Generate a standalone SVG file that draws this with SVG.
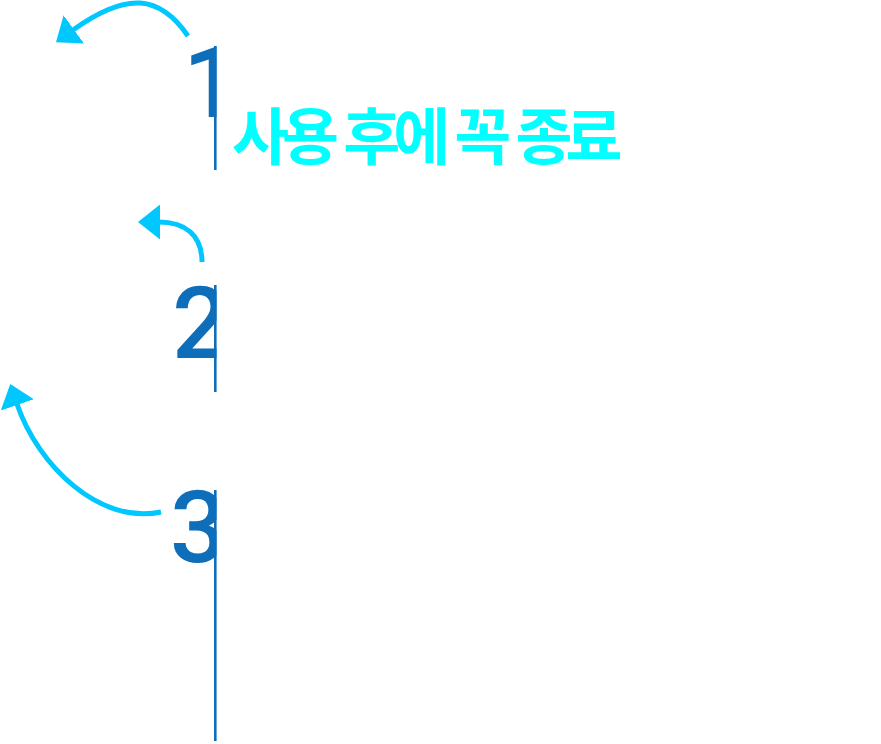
<svg xmlns="http://www.w3.org/2000/svg" width="881" height="744" viewBox="0 0 881 744">
<defs>
<style>
.num{font-family:Roboto,"Liberation Sans",sans-serif;font-size:100px;font-weight:500;fill:#0F6EB9}
.rule{stroke:#0F6EB9;stroke-width:2.6;fill:none}
.arr{stroke:#00C8FF;stroke-width:5;fill:none;marker-end:url(#head)}
.note{font-family:"Noto Sans CJK KR",sans-serif;font-weight:bold;font-size:62px;fill:#00FFFF;letter-spacing:-7px;word-spacing:4px}
</style>
<marker id="head" markerUnits="userSpaceOnUse" viewBox="0 0 22 35" refX="1" refY="17.5" markerWidth="22" markerHeight="35" orient="auto">
<path d="M0,0 L22,17.5 L0,35 z" fill="#00C8FF"/>
</marker>
<clipPath id="cut"><rect x="0" y="0" width="216.5" height="744"/></clipPath>
</defs>
<rect width="881" height="744" fill="#FFFFFF"/>
<g id="connectors">
<path class="arr" d="M188,36 C160,-5 127,-9 73,30"/>
<path class="arr" d="M202,262 C202,235 185,222 159,222"/>
<path class="arr" d="M161,512 C100,525 38,466 17,404"/>
</g>
<g id="step1">
<line class="rule" x1="215.3" y1="46" x2="215.3" y2="170"/>
<text class="num" x="183" y="117" clip-path="url(#cut)">1</text>
</g>
<g id="step2">
<line class="rule" x1="215.3" y1="285" x2="215.3" y2="392"/>
<text class="num" x="172" y="358" clip-path="url(#cut)">2</text>
</g>
<g id="step3">
<line class="rule" x1="215.3" y1="490" x2="215.3" y2="741"/>
<text class="num" x="170" y="562" clip-path="url(#cut)">3</text>
</g>
<g id="note">
<text class="note" x="232" y="160">사용 후에 꼭 종료</text>
</g>
</svg>
